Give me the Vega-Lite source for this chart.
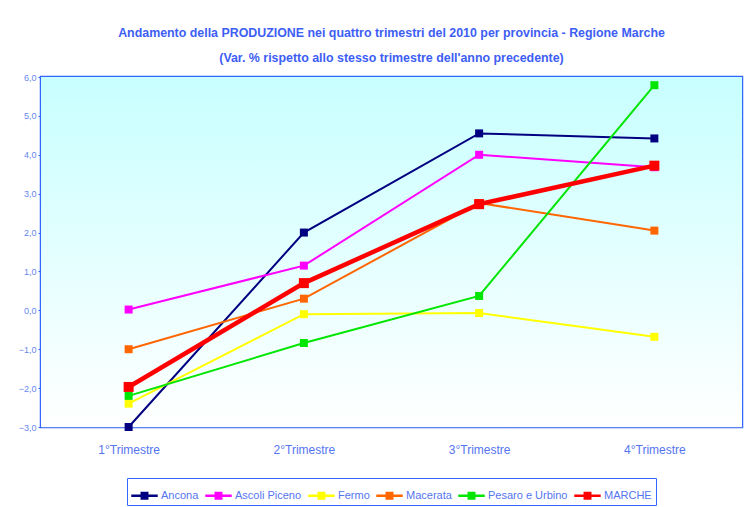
{
  "$schema": "https://vega.github.io/schema/vega-lite/v6.json",
  "width": 701,
  "height": 350,
  "autosize": {"type": "none"},
  "padding": {"left": 41, "top": 77, "right": 12, "bottom": 80},
  "background": "#ffffff",
  "config": {
    "font": "Liberation Sans",
    "view": {"stroke": "#3366ff", "strokeWidth": 2.5},
    "legend": {"layout": {"bottom": {"anchor": "middle"}}}
  },
  "title": {
    "text": ["Andamento della PRODUZIONE nei quattro trimestri del 2010 per provincia - Regione Marche", "(Var. % rispetto allo stesso trimestre dell'anno precedente)"],
    "font": "Liberation Sans",
    "fontSize": 12.4,
    "fontWeight": "bold",
    "color": "#3d5ef5",
    "lineHeight": 25,
    "anchor": "middle",
    "offset": 9
  },
  "data": {
    "values": [
      {"trimestre": "1°Trimestre", "provincia": "Ancona", "valore": -3.0},
      {"trimestre": "2°Trimestre", "provincia": "Ancona", "valore": 2.0},
      {"trimestre": "3°Trimestre", "provincia": "Ancona", "valore": 4.55},
      {"trimestre": "4°Trimestre", "provincia": "Ancona", "valore": 4.42},
      {"trimestre": "1°Trimestre", "provincia": "Ascoli Piceno", "valore": 0.02},
      {"trimestre": "2°Trimestre", "provincia": "Ascoli Piceno", "valore": 1.15},
      {"trimestre": "3°Trimestre", "provincia": "Ascoli Piceno", "valore": 4.0},
      {"trimestre": "4°Trimestre", "provincia": "Ascoli Piceno", "valore": 3.68},
      {"trimestre": "1°Trimestre", "provincia": "Fermo", "valore": -2.4},
      {"trimestre": "2°Trimestre", "provincia": "Fermo", "valore": -0.1},
      {"trimestre": "3°Trimestre", "provincia": "Fermo", "valore": -0.07},
      {"trimestre": "4°Trimestre", "provincia": "Fermo", "valore": -0.68},
      {"trimestre": "1°Trimestre", "provincia": "Macerata", "valore": -1.0},
      {"trimestre": "2°Trimestre", "provincia": "Macerata", "valore": 0.3},
      {"trimestre": "3°Trimestre", "provincia": "Macerata", "valore": 2.76},
      {"trimestre": "4°Trimestre", "provincia": "Macerata", "valore": 2.05},
      {"trimestre": "1°Trimestre", "provincia": "Pesaro e Urbino", "valore": -2.2},
      {"trimestre": "2°Trimestre", "provincia": "Pesaro e Urbino", "valore": -0.84},
      {"trimestre": "3°Trimestre", "provincia": "Pesaro e Urbino", "valore": 0.37},
      {"trimestre": "4°Trimestre", "provincia": "Pesaro e Urbino", "valore": 5.79},
      {"trimestre": "1°Trimestre", "provincia": "MARCHE", "valore": -1.97},
      {"trimestre": "2°Trimestre", "provincia": "MARCHE", "valore": 0.7},
      {"trimestre": "3°Trimestre", "provincia": "MARCHE", "valore": 2.73},
      {"trimestre": "4°Trimestre", "provincia": "MARCHE", "valore": 3.72}
    ]
  },
  "encoding": {
    "x": {
      "field": "trimestre",
      "type": "ordinal",
      "sort": null,
      "scale": {"type": "point", "padding": 0.5},
      "axis": {
        "title": null,
        "labelAngle": 0,
        "domain": false,
        "ticks": false,
        "grid": false,
        "labelFont": "Liberation Sans",
        "labelFontSize": 12,
        "labelColor": "#5575f0",
        "labelPadding": 17
      }
    },
    "y": {
      "field": "valore",
      "type": "quantitative",
      "scale": {"domain": [-3, 6], "nice": false, "zero": false},
      "axis": {
        "title": null,
        "values": [-3, -2, -1, 0, 1, 2, 3, 4, 5, 6],
        "labelExpr": "replace(format(datum.value, '.1f'), '.', ',')",
        "labelFont": "Liberation Sans",
        "labelFontSize": 9,
        "labelColor": "#6688ee",
        "labelPadding": 2,
        "tickSize": 3,
        "tickColor": "#3366ff",
        "domain": false,
        "grid": true,
        "gridColor": "#5b80f2",
        "gridWidth": 1,
        "gridOpacity": 1
      }
    }
  },
  "layer": [
    {
      "mark": {
        "type": "rect",
        "fill": {
          "gradient": "linear",
          "x1": 0, "y1": 0, "x2": 0, "y2": 1,
          "stops": [
            {"offset": 0, "color": "#c8ffff"},
            {"offset": 1, "color": "#ffffff"}
          ]
        }
      },
      "encoding": {
        "x": null,
        "y": {"datum": 6},
        "y2": {"datum": -3}
      }
    },
    {
      "mark": {"type": "line"},
      "encoding": {
        "color": {
          "field": "provincia",
          "type": "nominal",
          "scale": {
            "domain": ["Ancona", "Ascoli Piceno", "Fermo", "Macerata", "Pesaro e Urbino", "MARCHE"],
            "range": ["#000080", "#ff00ff", "#ffff00", "#ff6600", "#00e600", "#ff0000"]
          },
          "legend": {
            "title": null,
            "orient": "bottom",
            "direction": "horizontal",
            "columns": 6,
            "offset": 23,
            "padding": 4,
            "strokeColor": "#3366ff",
            "labelFont": "Liberation Sans",
            "labelFontSize": 11,
            "labelColor": "#5575f0",
            "labelOffset": 3,
            "columnPadding": 6,
            "symbolType": "M-1,-0.1H-0.3V-0.3H0.3V-0.1H1V0.1H0.3V0.3H-0.3V0.1H-1Z",
            "symbolSize": 700,
            "symbolStrokeWidth": 0,
            "encoding": {
              "symbols": {
                "update": {
                  "fill": {"scale": "color", "field": "value"},
                  "fillOpacity": {"value": 1},
                  "strokeWidth": {"value": 0}
                }
              }
            }
          }
        },
        "detail": {"field": "provincia"},
        "order": {"value": 0},
        "strokeWidth": {
          "condition": {"test": "datum.provincia === 'MARCHE'", "value": 4.5},
          "value": 2
        }
      }
    },
    {
      "mark": {"type": "point", "shape": "square", "filled": true, "opacity": 1},
      "encoding": {
        "color": {"field": "provincia", "type": "nominal", "legend": null},
        "size": {
          "condition": {"test": "datum.provincia === 'MARCHE'", "value": 100},
          "value": 64
        }
      }
    }
  ]
}
